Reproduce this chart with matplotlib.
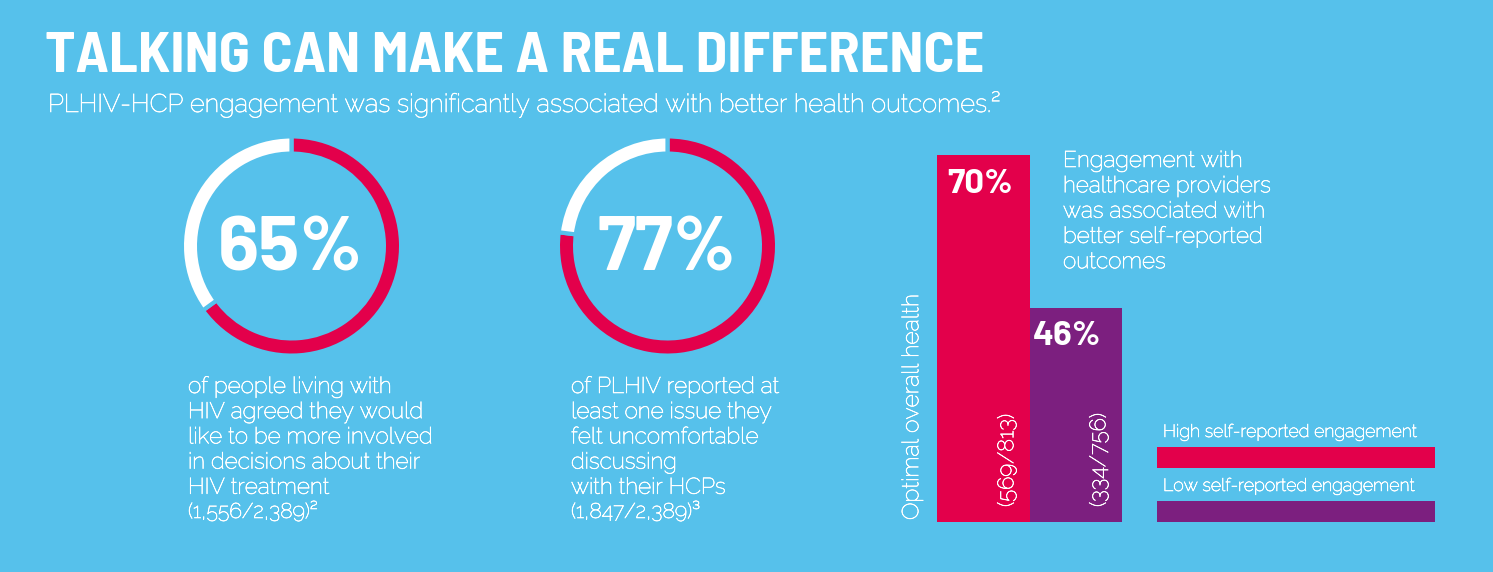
import matplotlib
matplotlib.use('Agg')
import matplotlib.pyplot as plt
import matplotlib.patheffects as pe
from matplotlib.patches import Rectangle

W, H = 1493, 572
BG     = '#56c1eb'
ROUGE  = '#e3004b'
VIOLET = '#7c1f7f'
BLANC  = 'white'

TITRE      = "TALKING CAN MAKE A REAL DIFFERENCE"
SOUS_TITRE = "PLHIV-HCP engagement was significantly associated with better health outcomes.\u00b2"

# donuts
pourcents = [65, 77]
textes_donuts = [
	["of people living with", "HIV agreed they would", "like to be more involved",
	 "in decisions about their", "HIV treatment"],
	["of PLHIV reported at", "least one issue they", "felt uncomfortable",
	 "discussing", "with their HCPs"],
]
refs_donuts = ["(1,556/2,389)\u00b2", "(1,847/2,389)\u00b3"]

# barres
groupes   = ["High self-reported engagement", "Low self-reported engagement"]
valeurs   = [70, 46]
effectifs = ["(569/813)", "(334/756)"]
axe_y     = "Optimal overall health"
texte_droite = ["Engagement with", "healthcare providers", "was associated with",
                "better self-reported", "outcomes"]

fx = lambda x: x / W
fy = lambda y: 1 - y / H

#	Raleway est très fin ici : un léger contour blanc l'épaissit
epais = [pe.withStroke(linewidth=0.45, foreground=BLANC)]
LEGER = dict(family=['Raleway', 'Lato', 'DejaVu Sans'], weight='normal', color=BLANC, path_effects=epais)
GRAS  = dict(family=['Barlow', 'Roboto', 'DejaVu Sans'], weight='bold', color=BLANC)

fig = plt.figure(figsize=(W/100, H/100), dpi=100, facecolor=BG)

####################################################################################
#	Titre
fig.text(fx(45), fy(72), TITRE, fontsize=41.7, va='baseline', ha='left',
         family=['Barlow Semi Condensed', 'Barlow Condensed', 'DejaVu Sans'], weight='bold', color=BLANC)
fig.text(fx(48), fy(112), SOUS_TITRE, fontsize=18.4, va='baseline', ha='left', **LEGER)

####################################################################################
#	Donuts
R  = 107.5
lw = 3
centres = [(291.5, 246), (667.5, 246)]
x_textes = [188, 571]

for i, p in enumerate(pourcents):
	cx, cy = centres[i]
	ax = fig.add_axes([fx(cx - R), fy(cy + R), 2*R/W, 2*R/H])
	ax.axis('off')
	r_ext = 1 + (lw*100/72/2)/R
	larg  = 13/R + (lw*100/72)/R
	ax.pie([p, 100 - p], colors=[ROUGE, BLANC], startangle=90, counterclock=False,
	       radius=r_ext, wedgeprops=dict(width=larg, edgecolor=BG, linewidth=lw))
	ax.set_xlim(-1, 1); ax.set_ylim(-1, 1)
	fig.text(fx(cx - 1), fy(270), f"{p}%", fontsize=55, ha='center', va='baseline', **GRAS)
	for j, ligne in enumerate(textes_donuts[i]):
		fig.text(fx(x_textes[i]), fy(393 + 25.2*j), ligne, fontsize=16.3,
		         ha='left', va='baseline', **LEGER)
	fig.text(fx(x_textes[i]), fy(518), refs_donuts[i], fontsize=15.3,
	         ha='left', va='baseline', **LEGER)

####################################################################################
#	Barres
ax = fig.add_axes([fx(937), fy(522), (1122-937)/W, (522-155)/H])
ax.bar([0, 1], valeurs, width=1.0, color=[ROUGE, VIOLET])
ax.set_xlim(-0.5, 1.5)
ax.set_ylim(12.4, 70)
ax.axis('off')

x_pct = [947, 1033]
y_pct = [193, 345]
x_eff = [1007, 1099]
for i, v in enumerate(valeurs):
	fig.text(fx(x_pct[i]), fy(y_pct[i]), f"{v}%", fontsize=25, ha='left', va='baseline', **GRAS)
	fig.text(fx(x_eff[i]), fy(507), effectifs[i], fontsize=16, rotation=90,
	         ha='center', va='bottom', **LEGER)

fig.text(fx(912), fy(520), axe_y, fontsize=16.6, rotation=90, ha='center', va='bottom', **LEGER)

for j, ligne in enumerate(texte_droite):
	fig.text(fx(1063), fy(167 + 25.3*j), ligne, fontsize=16.3, ha='left', va='baseline', **LEGER)

#	Légende
couleurs = [ROUGE, VIOLET]
y_leg = [447, 501]
for i, g in enumerate(groupes):
	fig.add_artist(Rectangle((fx(1157), fy(y_leg[i] + 21)), (1435-1157)/W, 21/H,
	                         transform=fig.transFigure, facecolor=couleurs[i], edgecolor='none'))
	fig.text(fx(1163), fy(y_leg[i] - 10), g, fontsize=12.8, ha='left', va='baseline', **LEGER)

fig.savefig('out.png', dpi=100, facecolor=BG)
